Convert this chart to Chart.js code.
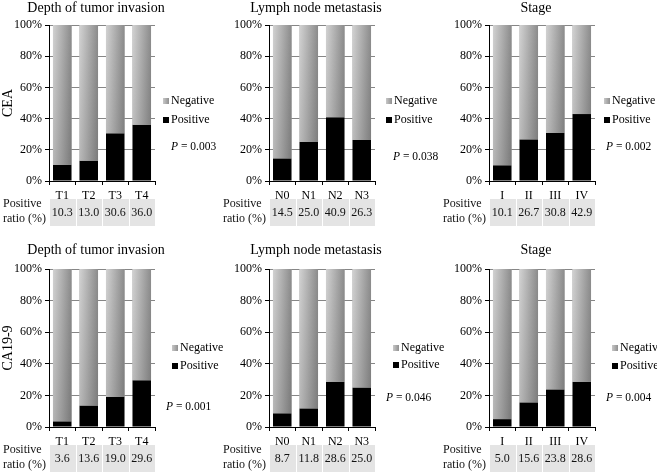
<!DOCTYPE html>
<html>
<head>
<meta charset="utf-8">
<script src="https://cdn.jsdelivr.net/npm/chart.js@4.4.0/dist/chart.umd.min.js"></script>
<style>
  html, body { margin: 0; padding: 0; background: #fff; overflow: hidden; }
  #wrap { position: relative; width: 657px; height: 472px; }
  canvas { position: absolute; }
</style>
</head>
<body>
<div id="wrap">
  <canvas id="c1" width="240" height="236" style="left:0px;top:0px"></canvas>
  <canvas id="c2" width="240" height="236" style="left:220px;top:0px"></canvas>
  <canvas id="c3" width="217" height="236" style="left:440px;top:0px"></canvas>
  <canvas id="c4" width="240" height="236" style="left:0px;top:236px"></canvas>
  <canvas id="c5" width="240" height="236" style="left:220px;top:236px"></canvas>
  <canvas id="c6" width="217" height="236" style="left:440px;top:236px"></canvas>
</div>
<script>
// categories
var depthLabels = ['T1', 'T2', 'T3', 'T4'];
var nodeLabels  = ['N0', 'N1', 'N2', 'N3'];
var stageLabels = ['I', 'II', 'III', 'IV'];

// CEA, % positive / negative
var ceaDepthPos = [10.3, 13.0, 30.6, 36.0];
var ceaDepthNeg = [89.7, 87.0, 69.4, 64.0];
var ceaNodePos  = [14.5, 25.0, 40.9, 26.3];
var ceaNodeNeg  = [85.5, 75.0, 59.1, 73.7];
var ceaStagePos = [10.1, 26.7, 30.8, 42.9];
var ceaStageNeg = [89.9, 73.3, 69.2, 57.1];

// CA19-9, % positive / negative
var caDepthPos = [3.6, 13.6, 19.0, 29.6];
var caDepthNeg = [96.4, 86.4, 81.0, 70.4];
var caNodePos  = [8.7, 11.8, 28.6, 25.0];
var caNodeNeg  = [91.3, 88.2, 71.4, 75.0];
var caStagePos = [5.0, 15.6, 23.8, 28.6];
var caStageNeg = [95.0, 84.4, 76.2, 71.4];

var pValues = ['0.003', '0.038', '0.002', '0.001', '0.046', '0.004'];

var FONT = '"Liberation Serif", "Times New Roman", serif';

function tableBox(chart) {
    var ca = chart.chartArea;
    return { top: ca.bottom + 18, bottom: ca.bottom + 45, cw: (ca.right - ca.left) / 4 };
}

var panelDecor = {
    id: 'panelDecor',
    // grey cells of the ratio table go under the axis labels
    beforeDraw: function(chart, args, o) {
        var ctx = chart.ctx;
        var t = tableBox(chart);
        ctx.save();
        ctx.fillStyle = '#e4e4e4';
        for (var i = 0; i < o.ratios.length; i++) {
            var cx = chart.scales.x.getPixelForValue(i);
            var left = Math.round(cx - t.cw / 2) + 1;
            var right = Math.round(cx + t.cw / 2);
            ctx.fillRect(left, t.top, right - left, t.bottom - t.top);
        }
        ctx.restore();
    },
    // shade the grey bars: light on the left, dark on the right, a bit darker low down
    afterDatasetsDraw: function(chart) {
        var ctx = chart.ctx;
        var ca = chart.chartArea;
        var meta = chart.getDatasetMeta(1);
        ctx.save();
        meta.data.forEach(function(el) {
            var p = el.getProps(['x', 'y', 'base', 'width']);
            var left = p.x - p.width / 2;
            var g = ctx.createLinearGradient(left, 0, left + p.width, 0);
            g.addColorStop(0, '#d2d2d2');
            g.addColorStop(1, '#8c8c8c');
            ctx.fillStyle = g;
            ctx.fillRect(left, p.y, p.width, p.base - p.y);
            var v = ctx.createLinearGradient(0, ca.top, 0, ca.bottom);
            v.addColorStop(0, 'rgba(0,0,0,0)');
            v.addColorStop(1, 'rgba(0,0,0,0.14)');
            ctx.fillStyle = v;
            ctx.fillRect(left, p.y, p.width, p.base - p.y);
        });
        ctx.restore();
    },
    afterDraw: function(chart, args, o) {
        var ctx = chart.ctx;
        var ca = chart.chartArea;
        var t = tableBox(chart);
        ctx.save();
        ctx.fillStyle = '#000';

        // title
        ctx.font = '14px ' + FONT;
        ctx.textAlign = 'center';
        ctx.textBaseline = 'middle';
        ctx.fillText(o.title, 96, o.titleY);

        // side label
        if (o.side) {
            ctx.save();
            ctx.translate(8, (ca.top + ca.bottom) / 2);
            ctx.rotate(-Math.PI / 2);
            ctx.font = '14px ' + FONT;
            ctx.fillText(o.side, 0, 0);
            ctx.restore();
        }

        // legend
        ctx.textAlign = 'left';
        ctx.font = '12px ' + FONT;
        var sq = ctx.createLinearGradient(o.sqX, 0, o.sqX + 6, 0);
        sq.addColorStop(0, '#c8c8c8');
        sq.addColorStop(1, '#909090');
        ctx.fillStyle = sq;
        ctx.fillRect(o.sqX, o.negY - 3, 6, 6);
        ctx.fillStyle = '#000';
        ctx.fillRect(o.sqX, o.posY - 3, 6, 6);
        ctx.fillText('Negative', o.textX, o.negY);
        ctx.fillText('Positive', o.textX, o.posY);

        // p value
        ctx.font = 'italic 11.5px ' + FONT;
        ctx.fillText('P', o.pX, o.pY);
        var w = ctx.measureText('P').width;
        ctx.font = '11.5px ' + FONT;
        ctx.fillText(' = ' + o.p, o.pX + w, o.pY);

        // ratio table text
        ctx.fillStyle = '#111';
        ctx.font = '12px ' + FONT;
        ctx.textAlign = 'center';
        for (var i = 0; i < o.ratios.length; i++) {
            ctx.fillText(o.ratios[i].toFixed(1), chart.scales.x.getPixelForValue(i), (t.top + t.bottom) / 2);
        }
        ctx.textAlign = 'left';
        ctx.fillText('Positive', ca.left - 46, t.top + 5);
        ctx.fillText('ratio (%)', ca.left - 46, t.top + 20);

        ctx.restore();
    }
};

function drawPanel(id, labels, pos, neg, decor) {
    var ctx = document.getElementById(id);
    decor.ratios = pos;
    return new Chart(ctx, {
        type: 'bar',
        data: {
            labels: labels,
            datasets: [
                { label: 'Positive', data: pos, backgroundColor: '#000000', stack: 's' },
                { label: 'Negative', data: neg, backgroundColor: '#aaaaaa', stack: 's' }
            ]
        },
        options: {
            responsive: false,
            animation: false,
            events: [],
            categoryPercentage: 0.7,
            barPercentage: 1.0,
            layout: { padding: { left: 0, top: decor.padTop, right: ctx.width - 155, bottom: 0 } },
            plugins: {
                legend: { display: false },
                tooltip: { enabled: false },
                panelDecor: decor
            },
            scales: {
                x: {
                    stacked: true,
                    afterFit: function(s) { s.height = decor.xHeight; },
                    grid: { drawOnChartArea: false, tickLength: 4, tickColor: '#000', offset: true },
                    border: { color: '#000', width: 1 },
                    ticks: { color: '#000', padding: 4, font: { family: FONT, size: 12 } }
                },
                y: {
                    stacked: true,
                    min: 0,
                    max: 100,
                    afterFit: function(s) { s.width = 49; },
                    grid: {
                        color: function(c) { return c.tick && c.tick.value === 0 ? 'rgba(0,0,0,0)' : '#868686'; },
                        tickColor: '#000',
                        tickLength: 4
                    },
                    border: { color: '#000', width: 1 },
                    ticks: {
                        stepSize: 20,
                        color: '#000',
                        padding: 3,
                        font: { family: FONT, size: 12 },
                        callback: function(v) { return v + '%'; }
                    }
                }
            }
        },
        plugins: [panelDecor]
    });
}

var topRow = { titleY: 8, padTop: 25, xHeight: 55 };
var bottomRow = { titleY: 14, padTop: 33, xHeight: 45 };

function row(base, extra) {
    var o = {};
    for (var k in base) o[k] = base[k];
    for (var j in extra) o[j] = extra[j];
    return o;
}

drawPanel('c1', depthLabels, ceaDepthPos, ceaDepthNeg, row(topRow,
    { title: 'Depth of tumor invasion', side: 'CEA', p: pValues[0],
      sqX: 163, textX: 171, negY: 101, posY: 120, pX: 171, pY: 147 }));
drawPanel('c2', nodeLabels, ceaNodePos, ceaNodeNeg, row(topRow,
    { title: 'Lymph node metastasis', side: '', p: pValues[1],
      sqX: 166, textX: 174, negY: 101, posY: 120, pX: 173, pY: 157 }));
drawPanel('c3', stageLabels, ceaStagePos, ceaStageNeg, row(topRow,
    { title: 'Stage', side: '', p: pValues[2],
      sqX: 164, textX: 172, negY: 101, posY: 120, pX: 166, pY: 147 }));
drawPanel('c4', depthLabels, caDepthPos, caDepthNeg, row(bottomRow,
    { title: 'Depth of tumor invasion', side: 'CA19-9', p: pValues[3],
      sqX: 172, textX: 180, negY: 112, posY: 130, pX: 166, pY: 171 }));
drawPanel('c5', nodeLabels, caNodePos, caNodeNeg, row(bottomRow,
    { title: 'Lymph node metastasis', side: '', p: pValues[4],
      sqX: 173, textX: 181, negY: 112, posY: 129, pX: 166, pY: 162 }));
drawPanel('c6', stageLabels, caStagePos, caStageNeg, row(bottomRow,
    { title: 'Stage', side: '', p: pValues[5],
      sqX: 172, textX: 180, negY: 112, posY: 130, pX: 166, pY: 162 }));
</script>
</body>
</html>
